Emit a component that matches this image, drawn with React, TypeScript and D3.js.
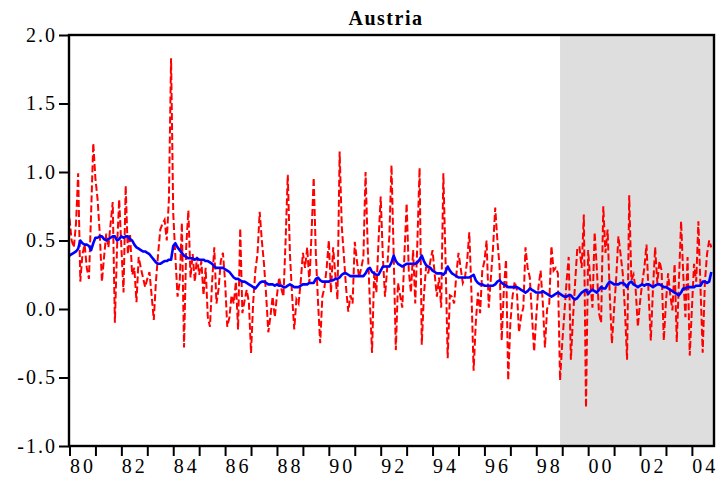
import React, { useRef, useEffect } from 'react';
import * as d3 from 'd3';

// monthly series, 1980M01 .. 2004M10
const redValues: number[] = [
  // 1980
  0.66, 0.50, 0.45, 0.62, 0.99, 0.20, 0.40, 0.47, 0.30, 0.22, 0.70, 1.21,
  // 1981
  0.95, 0.80, 0.55, 0.20, 0.38, 0.55, 0.45, 0.62, 0.78, -0.10, 0.45, 0.80,
  // 1982
  0.45, 0.12, 0.90, 0.40, 0.55, 0.25, 0.30, 0.05, 0.38, 0.30, 0.23, 0.16,
  // 1983
  0.22, 0.27, 0.10, -0.08, 0.20, 0.40, 0.58, 0.62, 0.65, 0.50, 0.80, 1.83,
  // 1984
  0.70, 0.38, 0.09, 0.20, 0.63, -0.28, 0.45, 0.72, 0.23, 0.40, 0.20, 0.38,
  // 1985
  0.25, 0.35, 0.10, 0.30, -0.06, -0.13, 0.20, 0.45, 0.04, 0.15, 0.35, 0.41,
  // 1986
  0.20, -0.13, -0.06, 0.10, 0.04, 0.20, -0.15, 0.59, -0.03, 0.06, 0.14, 0.05,
  // 1987
  -0.32, 0.05, 0.28, 0.40, 0.71, 0.50, 0.33, 0.10, -0.17, -0.05, 0.09, -0.06,
  // 1988
  0.10, 0.23, 0.15, 0.09, 0.50, 0.98, 0.40, 0.10, -0.15, 0.07, 0.04, 0.20,
  // 1989
  0.41, 0.30, 0.45, 0.19, 0.55, 0.96, 0.40, 0.05, -0.25, 0.09, 0.16, 0.30,
  // 1990
  0.50, 0.12, 0.45, 0.25, 0.07, 1.15, 0.60, 0.38, 0.15, -0.02, 0.10, 0.04,
  // 1991
  0.49, 0.35, 0.23, 0.30, 0.38, 1.00, 0.45, 0.05, -0.32, 0.28, 0.12, 0.50,
  // 1992
  0.82, 0.38, 0.09, 0.30, 0.53, 1.05, 0.40, -0.30, 0.19, 0.10, 0.01, 0.40,
  // 1993
  0.77, 0.28, 0.12, 0.43, 0.04, 0.50, 1.03, -0.26, 0.10, 0.31, 0.26, 0.35,
  // 1994
  0.43, 0.25, 0.09, 0.23, 0.01, 0.99, 0.36, -0.36, 0.10, 0.09, 0.04, 0.25,
  // 1995
  0.41, 0.30, 0.19, 0.23, 0.35, 0.56, 0.12, -0.45, -0.10, 0.12, -0.03, 0.28,
  // 1996
  0.35, 0.50, 0.01, 0.23, 0.45, 0.74, 0.50, 0.31, -0.23, 0.15, 0.36, -0.52,
  // 1997
  -0.10, 0.09, 0.20, 0.14, -0.17, -0.05, 0.01, 0.45, 0.30, 0.23, -0.05, -0.31,
  // 1998
  -0.05, 0.16, 0.28, 0.05, -0.28, 0.00, 0.04, 0.46, 0.28, 0.30, 0.26, -0.52,
  // 1999
  -0.25, -0.03, 0.20, 0.38, -0.37, -0.06, 0.20, 0.45, 0.45, 0.30, 0.69, -0.72,
  // 2000
  0.43, 0.20, 0.01, 0.56, 0.30, -0.03, -0.10, 0.75, 0.41, 0.58, 0.10, -0.25,
  // 2001
  0.00, 0.23, 0.53, 0.40, 0.26, 0.00, -0.37, 0.83, 0.21, 0.25, 0.14, -0.13,
  // 2002
  0.05, 0.19, 0.30, 0.47, 0.10, -0.23, 0.15, 0.45, 0.19, 0.35, 0.28, -0.23,
  // 2003
  0.05, 0.26, 0.10, -0.01, 0.33, -0.24, 0.20, 0.64, 0.25, -0.06, 0.38, -0.34,
  // 2004
  0.00, 0.33, 0.20, 0.64, 0.15, -0.32, 0.19, 0.40, 0.50, 0.45,
];

const blueValues: number[] = [
  0.39, 0.40, 0.41, 0.42, 0.44, 0.50, 0.48, 0.47, 0.47, 0.46, 0.43, 0.48,
  0.52, 0.52, 0.53, 0.53, 0.51, 0.50, 0.51, 0.52, 0.53, 0.53, 0.50, 0.51,
  0.53, 0.52, 0.53, 0.53, 0.51, 0.50, 0.47, 0.45, 0.44, 0.43, 0.42, 0.42,
  0.41, 0.40, 0.38, 0.36, 0.34, 0.33, 0.33, 0.34, 0.35, 0.35, 0.36, 0.36,
  0.46, 0.48, 0.45, 0.43, 0.41, 0.39, 0.38, 0.37, 0.37, 0.37, 0.36, 0.37,
  0.36, 0.36, 0.36, 0.35, 0.35, 0.34, 0.33, 0.31, 0.30, 0.30, 0.30, 0.30,
  0.29, 0.28, 0.27, 0.25, 0.23, 0.22, 0.22, 0.21, 0.20, 0.20, 0.19, 0.18,
  0.17, 0.16, 0.15, 0.17, 0.19, 0.20, 0.20, 0.19, 0.18, 0.18, 0.18, 0.17,
  0.18, 0.17, 0.17, 0.16, 0.16, 0.17, 0.18, 0.17, 0.16, 0.16, 0.16, 0.17,
  0.18, 0.18, 0.18, 0.19, 0.19, 0.19, 0.22, 0.23, 0.21, 0.20, 0.20, 0.20,
  0.20, 0.21, 0.21, 0.22, 0.22, 0.23, 0.25, 0.26, 0.26, 0.25, 0.24, 0.24,
  0.24, 0.24, 0.24, 0.24, 0.24, 0.26, 0.29, 0.30, 0.27, 0.26, 0.25, 0.25,
  0.28, 0.31, 0.31, 0.31, 0.31, 0.34, 0.39, 0.35, 0.33, 0.32, 0.31, 0.32,
  0.33, 0.33, 0.33, 0.33, 0.33, 0.34, 0.36, 0.39, 0.35, 0.32, 0.31, 0.30,
  0.28, 0.27, 0.26, 0.26, 0.26, 0.25, 0.27, 0.31, 0.28, 0.26, 0.25, 0.24,
  0.23, 0.23, 0.23, 0.23, 0.23, 0.23, 0.24, 0.25, 0.21, 0.19, 0.18, 0.18,
  0.17, 0.17, 0.17, 0.17, 0.17, 0.18, 0.20, 0.21, 0.19, 0.18, 0.17, 0.16,
  0.16, 0.16, 0.16, 0.16, 0.15, 0.14, 0.13, 0.12, 0.13, 0.15, 0.14, 0.13,
  0.12, 0.12, 0.12, 0.13, 0.12, 0.11, 0.10, 0.09, 0.10, 0.11, 0.12, 0.11,
  0.10, 0.09, 0.09, 0.10, 0.10, 0.08, 0.07, 0.08, 0.10, 0.12, 0.13, 0.14,
  0.11, 0.13, 0.14, 0.13, 0.12, 0.14, 0.16, 0.15, 0.15, 0.18, 0.20, 0.19,
  0.18, 0.18, 0.18, 0.19, 0.19, 0.18, 0.16, 0.19, 0.20, 0.18, 0.17, 0.16,
  0.17, 0.18, 0.17, 0.18, 0.18, 0.17, 0.16, 0.17, 0.18, 0.18, 0.17, 0.16,
  0.16, 0.15, 0.14, 0.13, 0.12, 0.11, 0.10, 0.12, 0.15, 0.15, 0.16, 0.16,
  0.16, 0.16, 0.17, 0.17, 0.17, 0.20, 0.20, 0.19, 0.20, 0.27,
];

const startYear = 1980;
const shadeStart = 1998 + 11 / 12; // 1998M12
const yTicks = [-1.0, -0.5, 0.0, 0.5, 1.0, 1.5, 2.0];
const yearTicks = d3.range(1980, 2005);
const yearLabels = ['80', '82', '84', '86', '88', '90', '92', '94', '96', '98', '00', '02', '04'];

const App: React.FC = () => {
  const svgRef = useRef<SVGSVGElement>(null);

  useEffect(() => {
    const svg = d3.select(svgRef.current);
    svg.selectAll('*').remove();

    const left = 69.5, right = 713.5, top = 35, bottom = 446;
    const n = redValues.length;
    const endYear = startYear + n / 12;

    const x = d3.scaleLinear().domain([startYear, endYear]).range([left, right]);
    const y = d3.scaleLinear().domain([-1, 2]).range([bottom, top]);
    const font = "'Liberation Serif', 'DejaVu Serif', serif";

    // forecast shading
    svg.append('rect')
      .attr('x', x(shadeStart))
      .attr('y', top)
      .attr('width', right - x(shadeStart))
      .attr('height', bottom - top)
      .attr('fill', '#dedede');

    const line = d3.line<number>()
      .x((_, i) => x(startYear + i / 12))
      .y(d => y(d));

    svg.append('path')
      .datum(redValues)
      .attr('d', line)
      .attr('fill', 'none')
      .attr('stroke', '#ff0000')
      .attr('stroke-width', 2)
      .attr('stroke-dasharray', '7,3');

    svg.append('path')
      .datum(blueValues)
      .attr('d', line)
      .attr('fill', 'none')
      .attr('stroke', '#0000ff')
      .attr('stroke-width', 2.6)
      .attr('stroke-linejoin', 'round');

    // frame
    svg.append('rect')
      .attr('x', left - 0.5)
      .attr('y', top)
      .attr('width', right - left + 1)
      .attr('height', bottom - top)
      .attr('fill', 'none')
      .attr('stroke', '#000')
      .attr('stroke-width', 2.4);

    // y axis
    const gy = svg.append('g')
      .attr('transform', `translate(${left - 0.5},0)`)
      .call(d3.axisLeft(y).tickValues(yTicks).tickSize(10).tickPadding(2)
        .tickFormat(d => (+d).toFixed(1)));
    gy.attr('font-family', null);
    gy.select('.domain').remove();
    gy.selectAll('line').attr('stroke', '#000').attr('stroke-width', 2);
    gy.selectAll('text')
      .style('font-family', font)
      .style('font-size', '20px')
      .style('letter-spacing', '2px')
      .attr('fill', '#000');

    // x axis: yearly ticks
    const gx = svg.append('g')
      .attr('transform', `translate(0,${bottom})`)
      .call(d3.axisBottom(x).tickValues(yearTicks).tickSize(10).tickFormat(() => ''));
    gx.select('.domain').remove();
    gx.selectAll('line').attr('stroke', '#000').attr('stroke-width', 2);

    // x labels centred on every second year
    const gl = svg.append('g')
      .attr('transform', `translate(0,${bottom})`)
      .call(d3.axisBottom(x)
        .tickValues(yearLabels.map((_, i) => startYear + 2 * i + 0.5))
        .tickSize(0).tickPadding(13)
        .tickFormat((_, i) => yearLabels[i]));
    gl.attr('font-family', null);
    gl.select('.domain').remove();
    gl.selectAll('text')
      .style('font-family', font)
      .style('font-size', '20px')
      .style('letter-spacing', '3px')
      .attr('fill', '#000');

    // title
    svg.append('text')
      .attr('x', 386)
      .attr('y', 25)
      .attr('text-anchor', 'middle')
      .style('font-family', font)
      .style('font-weight', 'bold')
      .style('font-size', '20px')
      .style('letter-spacing', '1.5px')
      .text('Austria');
  }, []);

  return (
    <svg ref={svgRef} width={721} height={482}
      style={{ position: 'absolute', left: 0, top: 0, background: '#fff' }} />
  );
};

export default App;
